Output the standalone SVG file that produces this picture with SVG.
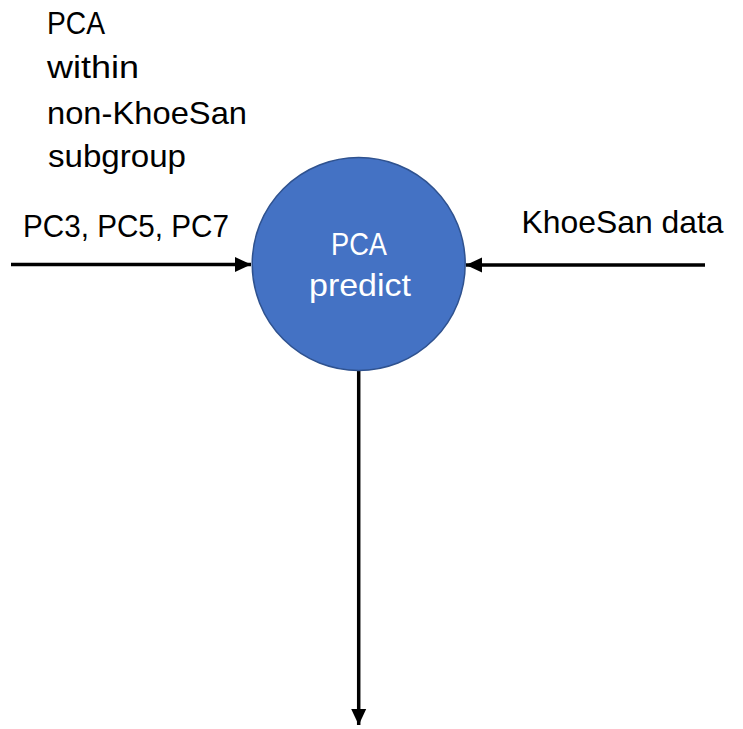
<svg xmlns="http://www.w3.org/2000/svg" width="743" height="729" viewBox="0 0 743 729">
<style>
.t{font-family:"Liberation Sans",Arial,sans-serif;font-size:32px;fill:#000}
.w{fill:#fff}
.c{stroke:#000;stroke-width:3.5;fill:none}
</style>
<defs>
<marker id="ah" markerUnits="userSpaceOnUse" markerWidth="16" markerHeight="16" viewBox="0 0 16 16" refX="16" refY="8" orient="auto">
<path d="M0,0.5 L16,8 L0,15.5 Z" fill="#000"/>
</marker>
</defs>
<rect width="743" height="729" fill="#fff"/>
<g id="connectors">
<line class="c" x1="11" y1="264.5" x2="251" y2="264.5" marker-end="url(#ah)"/>
<line class="c" x1="705" y1="265" x2="466" y2="265" marker-end="url(#ah)"/>
<line class="c" x1="358.7" y1="371" x2="358.7" y2="725" marker-end="url(#ah)"/>
</g>
<g id="node-pca-predict">
<circle cx="358.7" cy="264" r="106.5" fill="#4472C4" stroke="#2F528F" stroke-width="1.5"/>
<text class="t w" x="331" y="255" textLength="56" lengthAdjust="spacingAndGlyphs">PCA</text>
<text class="t w" x="309" y="296" textLength="102" lengthAdjust="spacingAndGlyphs">predict</text>
</g>
<g id="label-left">
<text class="t" x="47" y="33.5" textLength="58" lengthAdjust="spacingAndGlyphs">PCA</text>
<text class="t" x="47" y="78" textLength="92" lengthAdjust="spacingAndGlyphs">within</text>
<text class="t" x="47" y="123.5" textLength="200" lengthAdjust="spacingAndGlyphs">non-KhoeSan</text>
<text class="t" x="48" y="166.5" textLength="138" lengthAdjust="spacingAndGlyphs">subgroup</text>
<text class="t" x="23" y="236.5" textLength="206" lengthAdjust="spacingAndGlyphs">PC3, PC5, PC7</text>
</g>
<g id="label-right">
<text class="t" x="521.5" y="232.5" textLength="202" lengthAdjust="spacingAndGlyphs">KhoeSan data</text>
</g>
</svg>
